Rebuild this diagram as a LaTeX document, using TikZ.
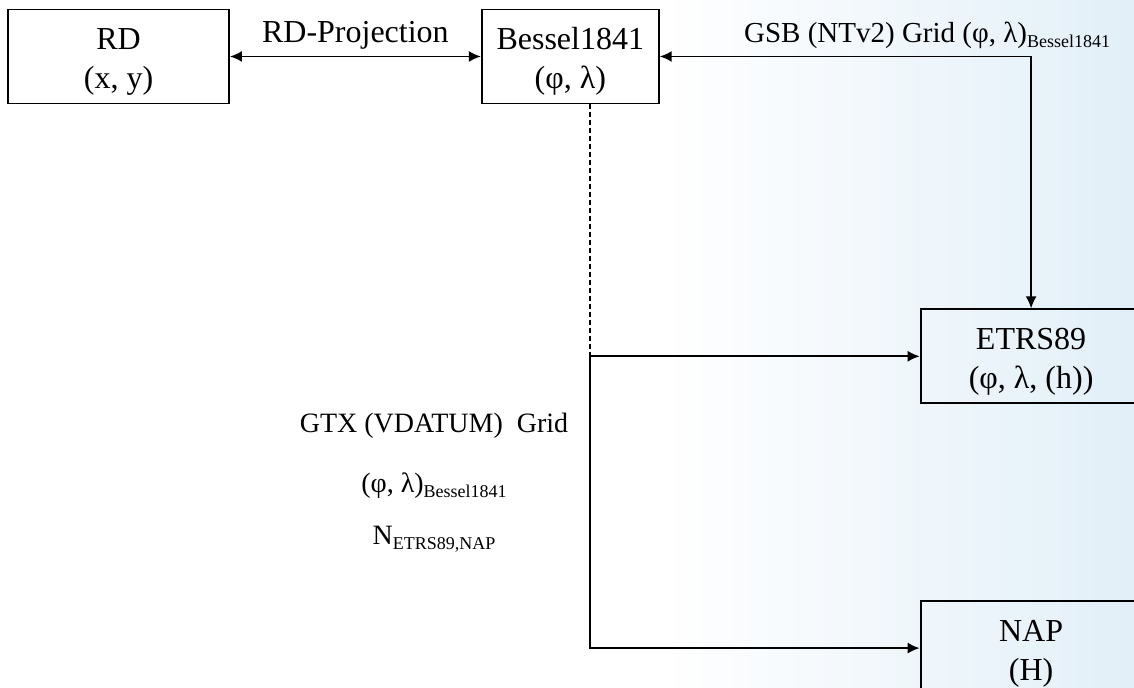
\documentclass[tikz,border=0pt]{standalone}
\usepackage{fontspec}
\setmainfont{Liberation Serif}
\usepackage{tikz}
\usetikzlibrary{arrows.meta, positioning}
\definecolor{bgblue}{RGB}{226,239,248}
\newcommand{\lowsub}[1]{\raisebox{-2.5pt}{\fontsize{9}{9}\selectfont #1}}
\newcommand{\topgap}{\rule{0pt}{16pt}}
\tikzstyle{line} = [draw, -{Latex[length=6pt,width=5.5pt]}, line width=0.9pt]
\tikzstyle{dline} = [line, {Latex[length=6pt,width=5.5pt]}-{Latex[length=6pt,width=5.5pt]}]
\tikzstyle{dashline} = [draw, line width=0.9pt, dash pattern=on 2.5pt off 1.5pt]
\tikzstyle{block} = [rectangle, draw, line width=0.9pt, align=center,
  minimum width=110.5pt, minimum height=47pt, font=\fontsize{16}{19.5}\selectfont]
\tikzstyle{lbl} = [font=\fontsize{16}{19.5}\selectfont]
\tikzstyle{glbl} = [font=\fontsize{14.5}{17}\selectfont]

\begin{document}
\begin{tikzpicture}[x=0.5pt, y=0.5pt, auto]
    \useasboundingbox (0,0) rectangle (1134,688);
    \shade [left color=white, right color=bgblue] (660,0) rectangle (1134,688);

    \node [block] (rd) at (118.5,631.5) {\topgap RD\\(x, y)};
    \node [block, minimum width=88.5pt, right=125.5pt of rd] (bessel) {\topgap Bessel1841\\(φ, λ)};
    \node [block, below right=102pt and 130pt of bessel] (etrs) {\topgap ETRS89\\(φ, λ, (h))};
    \node [block, below=98pt of etrs] (nap) {\topgap NAP\\(H)};

    \coordinate (drop) at ([xshift=9.75pt]bessel.south);
    \coordinate (split) at (drop |- etrs.west);

    \node [glbl, font=\fontsize{14}{17}\selectfont, align=center] (gtxlbl) at (434,205)
      {GTX (VDATUM)\ \ Grid\\[13pt] (φ, λ)\lowsub{Bessel1841}\\[9pt] N\lowsub{ETRS89,NAP}};

    \path [dline] (rd) -- node [lbl, above] (rdproj) {RD-Projection} (bessel);
    \path [dline] (bessel) -| node [glbl, above, pos=0.36] (gsblbl)
      {GSB (NTv2) Grid (φ, λ)\lowsub{Bessel1841}} (etrs);
    \path [dashline] (drop) -- (split);
    \path [line] (split) -- (etrs);
    \path [line] (split) |- (nap);

\end{tikzpicture}
\end{document}
